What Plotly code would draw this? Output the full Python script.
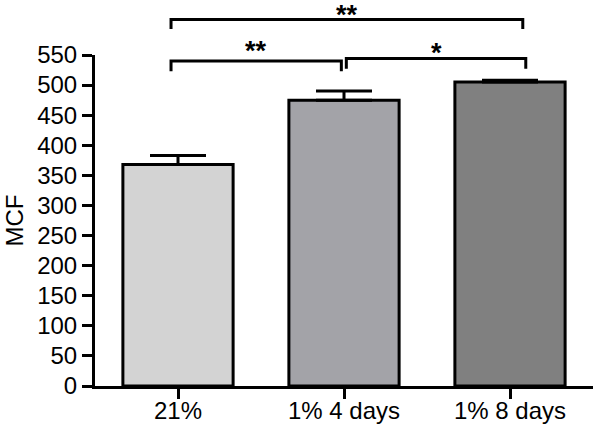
import plotly.graph_objects as go

categories = ["21%", "1% 4 days", "1% 8 days"]
values = [368, 475, 505]
errors = [15, 15, 3]
colors = ["#d3d3d3", "#a3a3a8", "#808080"]
y_ticks = list(range(0, 551, 50))

# significance brackets: left index, right index, level, bottom, label, label level
br_left = [0, 0, 1]
br_right = [2, 1, 2]
br_level = [609, 540, 544]
br_bottom = [593, 523, 527]
br_labels = ["**", "**", "*"]
br_label_level = [616, 557, 553]
# horizontal overhang of bracket ends (category units) - style only
br_left_off = [-0.042, -0.042, 0.014]
br_right_off = [0.077, -0.016, 0.095]

YMAX = 550
XMIN, XMAX = -0.5, 2.5

fig = go.Figure()
fig.add_trace(go.Bar(
    x=list(range(len(categories))), y=values,
    marker=dict(color=colors, line=dict(color="black", width=3)),
    width=0.664,
    error_y=dict(type="data", array=errors, symmetric=False, arrayminus=[0] * 3,
                 color="black", thickness=3, width=28),
))


def xp(i):
    return (i - XMIN) / (XMAX - XMIN)


def yp(v):
    return v / YMAX


shapes = []
annotations = []
for k in range(len(br_labels)):
    x0 = xp(br_left[k] + br_left_off[k])
    x1 = xp(br_right[k] + br_right_off[k])
    path = (f"M {x0},{yp(br_bottom[k])} L {x0},{yp(br_level[k])} "
            f"L {x1},{yp(br_level[k])} L {x1},{yp(br_bottom[k])}")
    shapes.append(dict(type="path", xref="paper", yref="paper", path=path,
                       line=dict(color="black", width=3)))
    annotations.append(dict(x=(x0 + x1) / 2, y=yp(br_label_level[k]), xref="paper", yref="paper",
                            text="<b>" + br_labels[k] + "</b>", showarrow=False,
                            yanchor="middle", xanchor="center",
                            font=dict(size=27, color="black", family="Liberation Sans, Arial")))

fig.update_layout(
    width=600, height=429,
    margin=dict(l=95, r=7, t=55, b=43, autoexpand=False),
    paper_bgcolor="white", plot_bgcolor="white",
    showlegend=False,
    shapes=shapes, annotations=annotations,
    font=dict(family="Liberation Sans, Arial", size=24, color="black"),
    xaxis=dict(
        range=[XMIN, XMAX], tickmode="array", tickvals=list(range(len(categories))),
        ticktext=categories, showline=True, linecolor="black", linewidth=3,
        ticks="outside", ticklen=10, tickwidth=3, tickcolor="black",
        showgrid=False, zeroline=False, tickfont=dict(size=24), automargin=False,
        ticklabelstandoff=-9,
    ),
    yaxis=dict(
        range=[0, YMAX], tickmode="array", tickvals=y_ticks,
        showline=True, linecolor="black", linewidth=3,
        ticks="outside", ticklen=10, tickwidth=3, tickcolor="black",
        showgrid=False, zeroline=False, tickfont=dict(size=24), automargin=False,
        title=dict(text="MCF", font=dict(size=24), standoff=7),
    ),
)

fig.write_html("out.html", config={"displayModeBar": False},
               post_script="document.body.style.margin='0';")
